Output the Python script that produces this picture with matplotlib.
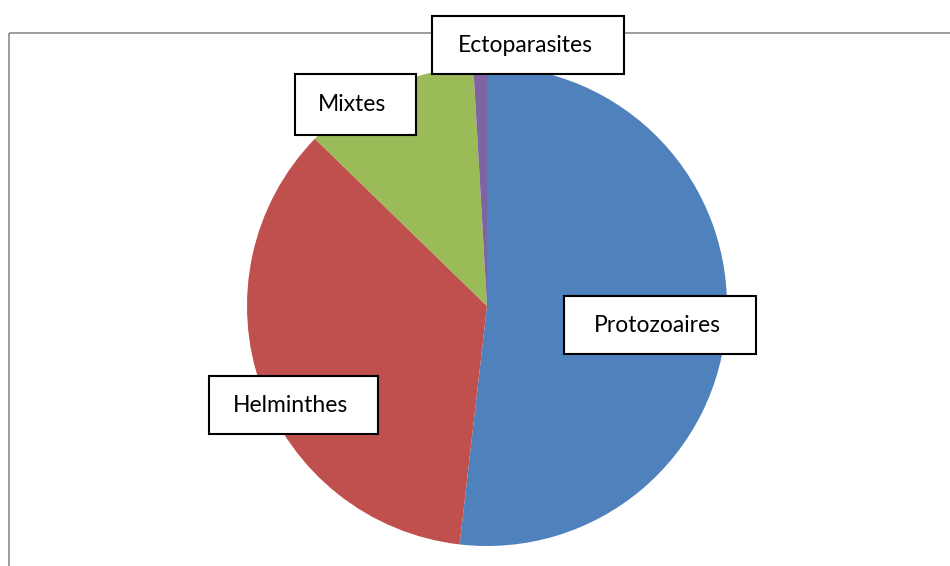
import matplotlib.pyplot as plt
from matplotlib.patches import Rectangle

# data
categories = ['Protozoaires', 'Helminthes', 'Mixtes', 'Ectoparasites']
counts = [57, 39, 13, 1]
colors = ['#4F81BD', '#C0504D', '#9BBB59', '#8064A2']

# label boxes (pixel layout: x0, y0, width, height)
label_boxes = {
    'Protozoaires': (564, 296, 192, 58),
    'Helminthes': (209, 376, 169, 58),
    'Mixtes': (295, 74, 121, 61),
    'Ectoparasites': (432, 16, 192, 58),
}

fig = plt.figure(figsize=(9.5, 5.66), dpi=100)
ax = fig.add_axes([0, 0, 1, 1])

# chart area frame
ax.add_patch(Rectangle((9, 33), 1000, 600, fill=False, edgecolor='#8c8c8c', linewidth=1.2))

# y axis is flipped below, so counterclock in data = clockwise on screen
ax.pie(counts, colors=colors, startangle=-90, counterclock=True,
       center=(487, 306), radius=240, wedgeprops={'linewidth': 0})
ax.set_xlim(0, 950)
ax.set_ylim(566, 0)
ax.set_aspect('equal')
ax.axis('off')

for name in categories:
    x0, y0, w, h = label_boxes[name]
    ax.add_patch(Rectangle((x0, y0), w, h, facecolor='white', edgecolor='black', linewidth=1.5, zorder=5))
    ax.text(x0 + w / 2 - 3, y0 + h / 2, name, ha='center', va='center',
            fontsize=16.5, family='Lato', color='black', zorder=6)

fig.savefig('out.png', dpi=100)
